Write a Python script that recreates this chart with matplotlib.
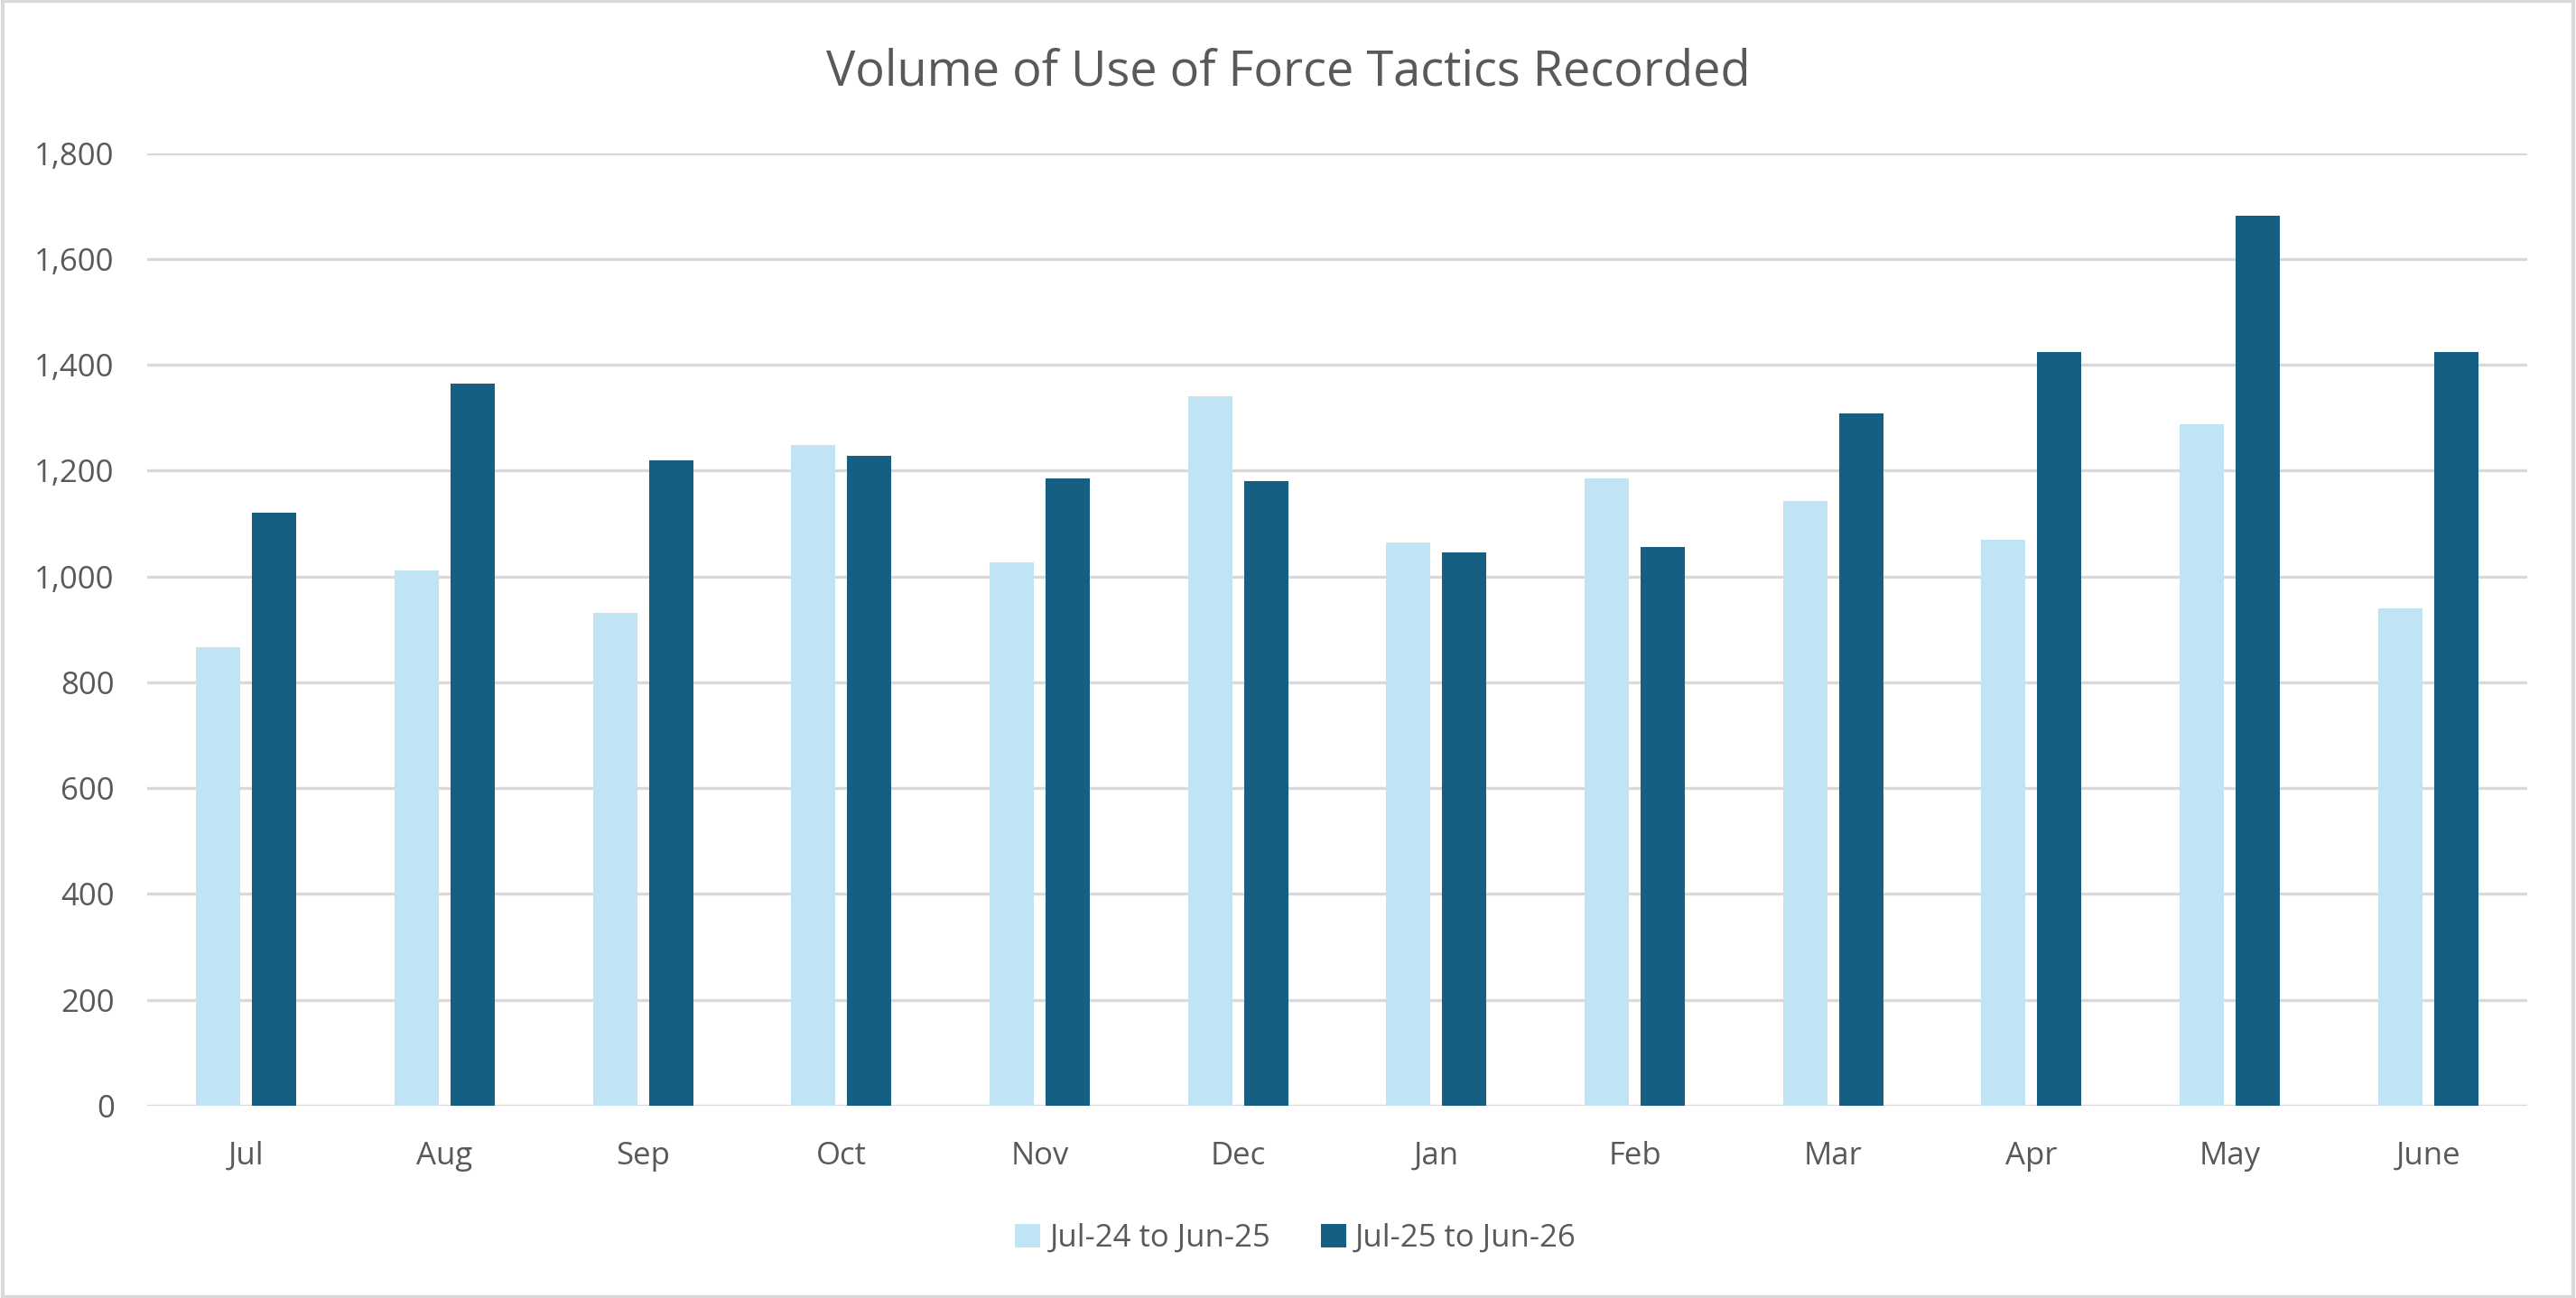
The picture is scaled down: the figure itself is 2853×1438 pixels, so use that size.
import numpy as np
import matplotlib
matplotlib.use("Agg")
import matplotlib.pyplot as plt
from matplotlib.patches import Rectangle
from matplotlib.ticker import FuncFormatter

months = ["Jul", "Aug", "Sep", "Oct", "Nov", "Dec", "Jan", "Feb", "Mar", "Apr", "May", "June"]
prev_year = [866, 1011, 931, 1248, 1027, 1340, 1064, 1186, 1143, 1069, 1288, 939]
this_year = [1121, 1365, 1219, 1228, 1185, 1180, 1046, 1056, 1308, 1424, 1681, 1424]
series_names = ["Jul-24 to Jun-25", "Jul-25 to Jun-26"]

light = "#C1E4F5"
dark = "#156082"
text_col = "#595959"
grid_col = "#D9D9D9"

plt.rcParams["font.family"] = ["Open Sans", "DejaVu Sans"]

fig = plt.figure(figsize=(14.265, 7.19), dpi=200)
ax = fig.add_axes([0.0571, 0.1483, 0.9240, 0.7337])

x = np.arange(len(months))
w = 0.223
off = 0.141
ax.bar(x - off, prev_year, w, color=light, label=series_names[0], zorder=3)
ax.bar(x + off, this_year, w, color=dark, label=series_names[1], zorder=3)

ax.set_xlim(-0.5, len(months) - 0.5)
ax.set_ylim(0, 1800)
ax.set_yticks(np.arange(0, 1801, 200))
ax.yaxis.set_major_formatter(FuncFormatter(lambda v, p: f"{int(v):,}"))
ax.set_xticks(x)
ax.set_xticklabels(months)
ax.grid(axis="y", color=grid_col, linewidth=1.2, zorder=0)
for s in ax.spines.values():
    s.set_visible(False)
ax.tick_params(axis="both", length=0, colors=text_col, labelsize=12.5)
ax.tick_params(axis="y", pad=13)
ax.tick_params(axis="x", pad=14)

fig.text(0.5, 1 - 80 / 1438, "Volume of Use of Force Tactics Recorded",
         ha="center", va="center", fontsize=19.5, color=text_col)

leg = fig.legend(loc="center", bbox_to_anchor=(0.503, 0.046), ncol=2, frameon=False,
                 fontsize=12.5, handlelength=0.8, handleheight=0.8, handletextpad=0.3,
                 columnspacing=1.6)
for t in leg.get_texts():
    t.set_color(text_col)

fig.patches.append(Rectangle((0.001, 0.001), 0.998, 0.998, transform=fig.transFigure,
                             fill=False, edgecolor=grid_col, linewidth=1.5))

fig.savefig("out.png", dpi=200, facecolor="white")
